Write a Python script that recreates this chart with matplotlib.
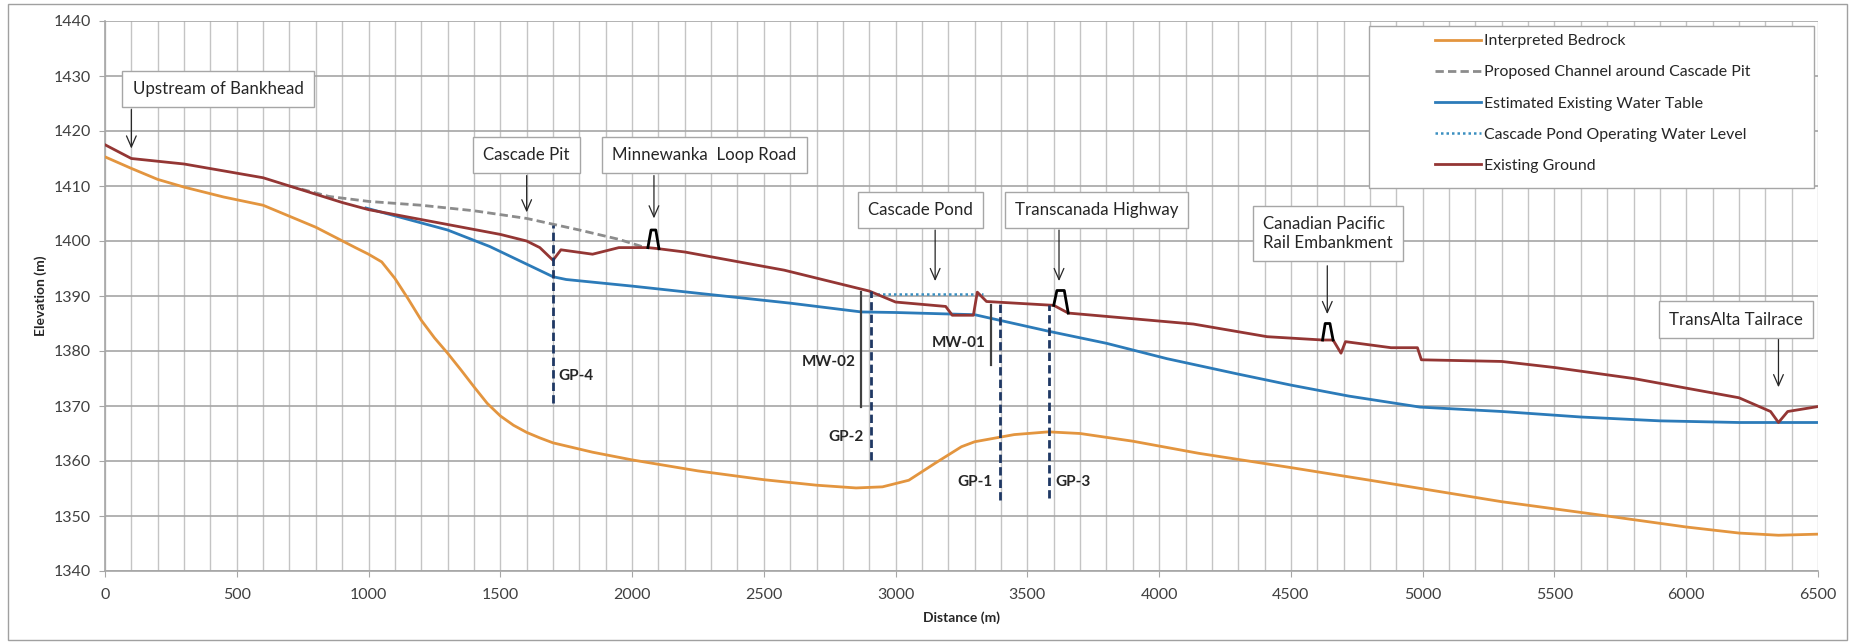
import matplotlib
matplotlib.use('Agg')
import matplotlib.pyplot as plt
from matplotlib.patches import Rectangle
from matplotlib.ticker import MultipleLocator

plt.rcParams['font.family'] = ['Lato', 'DejaVu Sans']

bedrock_x = [0, 100, 200, 300, 450, 600, 800, 950, 1000, 1050, 1100, 1150, 1200, 1250,
             1300, 1350, 1400, 1450, 1500, 1550, 1600, 1650, 1700, 1850, 2000, 2250,
             2500, 2700, 2850, 2950, 3050, 3150, 3250, 3300, 3450, 3580, 3700, 3900,
             4150, 4500, 4800, 5300, 5700, 6000, 6200, 6350, 6500]
bedrock_y = [1415.3, 1413.2, 1411.2, 1409.8, 1408.0, 1406.5, 1402.5, 1398.8, 1397.6,
             1396.2, 1393.2, 1389.5, 1385.6, 1382.4, 1379.6, 1376.6, 1373.5, 1370.5,
             1368.2, 1366.5, 1365.2, 1364.2, 1363.3, 1361.6, 1360.2, 1358.2, 1356.6,
             1355.6, 1355.1, 1355.3, 1356.5, 1359.6, 1362.6, 1363.5, 1364.8, 1365.3,
             1365.0, 1363.6, 1361.4, 1358.8, 1356.5, 1352.6, 1350.0, 1348.0, 1346.9,
             1346.5, 1346.7]

channel_x = [700, 850, 1000, 1200, 1400, 1600, 1800, 1950, 2050]
channel_y = [1410.0, 1408.1, 1407.2, 1406.5, 1405.5, 1404.1, 1402.0, 1400.3, 1398.8]

water_x = [990, 1300, 1460, 1700, 1750, 2000, 2250, 2600, 2870, 3000, 3300, 3580, 3800,
           4030, 4300, 4500, 4720, 4990, 5300, 5600, 5900, 6200, 6500]
water_y = [1406.0, 1402.0, 1399.0, 1393.5, 1393.0, 1391.8, 1390.5, 1388.7, 1387.1,
           1387.0, 1386.6, 1383.6, 1381.4, 1378.6, 1375.8, 1373.8, 1371.8, 1369.8,
           1369.0, 1368.0, 1367.3, 1367.0, 1367.0]

pond_x = [2930, 3330]
pond_y = [1390.4, 1390.4]

ground_x = [0, 100, 300, 600, 700, 900, 1000, 1300, 1500, 1600, 1650, 1700, 1730, 1850,
            1950, 2060, 2100, 2200, 2577, 2900, 3000, 3190, 3215, 3295, 3310, 3345,
            3600, 3655, 4130, 4410, 4620, 4660, 4690, 4707, 4880, 4980, 4995, 5300,
            5500, 5800, 6200, 6320, 6350, 6385, 6500]
ground_y = [1417.5, 1415.0, 1414.0, 1411.5, 1410.0, 1407.0, 1405.7, 1403.0, 1401.2,
            1400.0, 1398.8, 1396.5, 1398.4, 1397.6, 1398.8, 1398.8, 1398.6, 1398.0,
            1394.7, 1390.9, 1388.9, 1388.1, 1386.5, 1386.5, 1390.7, 1389.0, 1388.3,
            1386.9, 1384.9, 1382.6, 1382.0, 1382.0, 1379.6, 1381.7, 1380.6, 1380.6,
            1378.4, 1378.1, 1377.0, 1375.0, 1371.5, 1369.0, 1367.0, 1369.0, 1369.9]

# terraplenes (carreteras / via)
bumps_x = [[2060, 2072, 2090, 2102], [3600, 3612, 3640, 3655], [4620, 4630, 4648, 4660]]
bumps_y = [[1398.8, 1402.0, 1402.0, 1398.6], [1388.3, 1391.0, 1391.0, 1386.9],
           [1382.0, 1385.0, 1385.0, 1382.0]]

# sondeos
gp_names = ['GP-4', 'GP-2', 'GP-1', 'GP-3']
gp_x = [1700, 2907, 3397, 3583]
gp_top = [1403.0, 1391.0, 1389.0, 1388.3]
gp_bottom = [1370.5, 1360.2, 1352.9, 1353.3]
gp_label_y = [1375.5, 1364.4, 1356.2, 1356.2]
gp_side = ['right', 'left', 'left', 'right']

mw_names = ['MW-02', 'MW-01']
mw_x = [2869, 3362]
mw_top = [1390.7, 1388.4]
mw_bottom = [1369.8, 1377.5]
mw_label_y = [1378.0, 1381.4]

# etiquetas con flecha
notes = ['Upstream of Bankhead', 'Cascade Pit', 'Minnewanka  Loop Road', 'Cascade Pond',
         'Transcanada Highway', 'Canadian Pacific\nRail Embankment', 'TransAlta Tailrace']
note_x = [429, 1600, 2275, 3093, 3762, 4640, 6190]
note_y = [1427.6, 1415.6, 1415.6, 1405.6, 1405.6, 1401.4, 1385.7]
arrow_x = [100, 1600, 2083, 3150, 3620, 4638, 6350]
arrow_from = [1424.4, 1412.4, 1412.4, 1402.5, 1402.5, 1396.0, 1382.7]
arrow_to = [1416.3, 1404.7, 1403.6, 1392.2, 1392.2, 1386.2, 1372.9]

# --- figura ---
fig = plt.figure(figsize=(18.54, 6.42), dpi=100)
ax = fig.add_axes([105 / 1854, 1 - 571 / 642, 1713 / 1854, 550 / 642])

c_bed = '#E3953F'
c_chan = '#8C8C8C'
c_water = '#2C7BB9'
c_pond = '#3A8FC0'
c_ground = '#943634'

ax.plot(bedrock_x, bedrock_y, color=c_bed, lw=2.0, label='Interpreted Bedrock', zorder=4)
ax.plot(channel_x, channel_y, color=c_chan, lw=2.0, ls=(0, (3, 1.5)),
        label='Proposed Channel around Cascade Pit', zorder=4)
ax.plot(water_x, water_y, color=c_water, lw=2.0, label='Estimated Existing Water Table', zorder=4)
ax.plot(pond_x, pond_y, color=c_pond, lw=1.8, ls=(0, (1, 1.2)),
        label='Cascade Pond Operating Water Level', zorder=4)
ax.plot(ground_x, ground_y, color=c_ground, lw=2.0, label='Existing Ground', zorder=5)

for bx, by in zip(bumps_x, bumps_y):
    ax.plot(bx, by, color='black', lw=2.0, zorder=6)

for name, x, t, b, ly, side in zip(gp_names, gp_x, gp_top, gp_bottom, gp_label_y, gp_side):
    ax.plot([x, x], [b, t], color='#1F3864', lw=2.0, ls=(0, (3, 1.5)), zorder=6)
    if side == 'right':
        ax.text(x + 22, ly, name, ha='left', va='center', fontsize=11, fontweight='bold', color='#262626')
    else:
        ax.text(x - 28, ly, name, ha='right', va='center', fontsize=11, fontweight='bold', color='#262626')

for name, x, t, b, ly in zip(mw_names, mw_x, mw_top, mw_bottom, mw_label_y):
    ax.plot([x, x], [b, t], color='#404040', lw=1.6, zorder=6)
    ax.text(x - 22, ly, name, ha='right', va='center', fontsize=11, fontweight='bold', color='#262626')

for txt, tx, ty, axx, ay0, ay1 in zip(notes, note_x, note_y, arrow_x, arrow_from, arrow_to):
    ax.text(tx, ty, txt, ha='center', va='center', fontsize=12.2, color='#262626',
            multialignment='left', zorder=8,
            bbox=dict(boxstyle='square,pad=0.6', fc='white', ec='#A6A6A6', lw=1.0))
    ax.annotate('', xy=(axx, ay1), xytext=(axx, ay0),
                arrowprops=dict(arrowstyle='->,head_length=0.8,head_width=0.35',
                                color='#262626', lw=0.9), zorder=7)

ax.set_xlim(0, 6500)
ax.set_ylim(1340, 1440)
ax.xaxis.set_major_locator(MultipleLocator(500))
ax.xaxis.set_minor_locator(MultipleLocator(100))
ax.yaxis.set_major_locator(MultipleLocator(10))
ax.grid(True, which='major', axis='y', color='#A6A6A6', lw=1.2)
ax.grid(True, which='both', axis='x', color='#C4C4C4', lw=1.0)
ax.set_axisbelow(True)
for s in ['top', 'right']:
    ax.spines[s].set_visible(False)
for s in ['left', 'bottom']:
    ax.spines[s].set_color('#A6A6A6')
    ax.spines[s].set_linewidth(1.2)
ax.tick_params(axis='both', which='major', length=4, color='#A6A6A6', labelsize=11.5,
               labelcolor='#404040')
ax.tick_params(axis='x', which='major', pad=8)
ax.tick_params(axis='y', which='major', pad=6)
ax.tick_params(axis='x', which='minor', length=0)

ax.set_xlabel('Distance (m)', fontsize=10, fontweight='bold', color='#262626', labelpad=7)
ax.set_ylabel('Elevation (m)', fontsize=10, fontweight='bold', color='#262626', labelpad=5)

# leyenda con caja propia
ax.add_patch(Rectangle((0.7379, 0.6964), 0.2598, 0.2945, transform=ax.transAxes,
                       fc='white', ec='#A6A6A6', lw=1.0, zorder=9))
leg = ax.legend(loc='upper left', bbox_to_anchor=(0.7764, 0.976), frameon=False,
                fontsize=11.4, handlelength=2.9, handletextpad=0.2, labelspacing=1.08,
                borderpad=0, borderaxespad=0)
leg.set_zorder(10)
for t in leg.get_texts():
    t.set_color('#262626')

# marco exterior
fig.patches.append(Rectangle((8 / 1854, 2 / 642), 1839 / 1854, 636 / 642,
                             transform=fig.transFigure, fill=False, ec='#A0A0A0', lw=1.0))

fig.savefig('out.png', dpi=100)
